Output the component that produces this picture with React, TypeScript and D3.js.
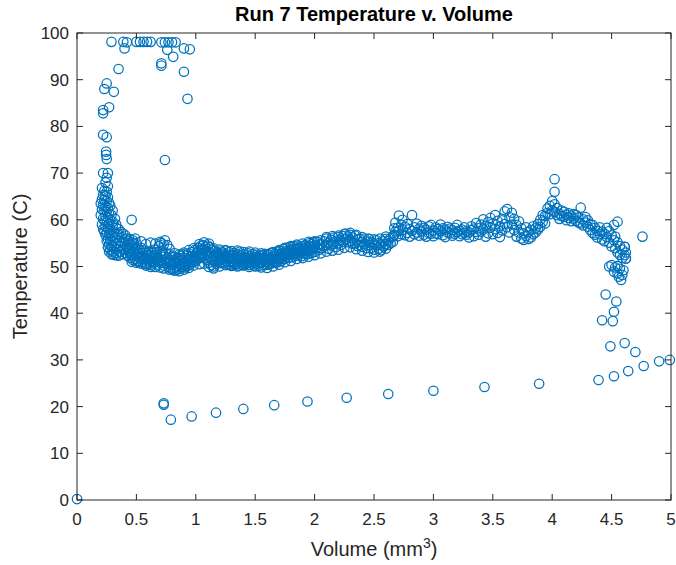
import React from "react";
import * as d3 from "d3";

// ---------- DATA (volume in mm^3, temperature in C) ----------
const xTicks = [0, 0.5, 1, 1.5, 2, 2.5, 3, 3.5, 4, 4.5, 5];
const yTicks = [0, 10, 20, 30, 40, 50, 60, 70, 80, 90, 100];
const titleText = "Run 7 Temperature v. Volume";
const yLabelText = "Temperature (C)";

const originPoint: [number, number][] = [[0, 0.2]];

const topCluster: [number, number][] = [
  [0.29, 98.1], [0.39, 98.1], [0.40, 96.7], [0.42, 98.0], [0.50, 98.1], [0.53, 98.1], [0.56, 98.1],
  [0.59, 98.1], [0.62, 98.1], [0.71, 98.0], [0.74, 98.0], [0.77, 98.0], [0.80, 98.0], [0.83, 98.0],
  [0.76, 96.4], [0.81, 94.9], [0.90, 96.7], [0.95, 96.5], [0.71, 93.5], [0.71, 93.0], [0.90, 91.7],
  [0.93, 85.9], [0.35, 92.3], [0.25, 89.2], [0.23, 88.0], [0.31, 87.4], [0.27, 84.1], [0.22, 83.5],
  [0.22, 82.8], [0.22, 78.2], [0.25, 77.7], [0.245, 74.6], [0.245, 73.9], [0.25, 73.0], [0.74, 72.8],
  [0.22, 70.0], [0.26, 70.0], [0.25, 69.0], [0.24, 68.0], [0.26, 67.2],
];

const descent: [number, number][] = [
  [0.21, 66.8], [0.23, 66.2], [0.25, 66.0], [0.22, 65.3], [0.24, 65.1], [0.26, 64.8], [0.23, 64.3],
  [0.25, 64.0], [0.27, 63.6], [0.20, 63.5], [0.22, 63.2], [0.24, 62.9], [0.26, 62.5], [0.23, 62.0],
  [0.25, 61.7], [0.27, 61.3], [0.20, 61.0], [0.29, 61.0], [0.24, 60.8], [0.26, 60.4], [0.28, 60.0],
  [0.23, 59.8], [0.25, 59.4], [0.27, 59.1], [0.21, 59.0], [0.30, 58.8], [0.24, 58.5], [0.26, 58.2],
  [0.28, 57.8], [0.31, 57.5], [0.33, 58.3], [0.25, 57.2], [0.27, 56.9], [0.29, 56.5], [0.32, 56.2],
  [0.35, 56.8], [0.26, 55.9], [0.28, 55.6], [0.30, 55.3], [0.33, 55.0], [0.36, 55.5], [0.38, 56.3],
  [0.27, 54.7], [0.29, 54.4], [0.31, 54.1], [0.34, 53.8], [0.37, 54.4], [0.40, 55.2], [0.28, 53.6],
  [0.30, 53.2], [0.33, 52.9], [0.36, 53.1], [0.39, 53.7], [0.42, 54.5], [0.44, 55.9], [0.46, 60.0],
  [0.31, 52.5], [0.33, 52.4], [0.35, 52.3], [0.38, 52.6], [0.41, 52.9], [0.43, 53.4], [0.45, 54.8],
  [0.47, 55.6], [0.49, 56.0], [0.40, 53.6], [0.43, 52.2], [0.36, 54.2], [0.41, 56.0], [0.43, 55.5],
  [0.32, 60.2], [0.30, 59.6], [0.33, 59.0], [0.35, 58.0], [0.37, 57.4], [0.39, 57.0], [0.41, 56.6],
  [0.34, 57.0], [0.38, 55.2], [0.42, 54.0], [0.44, 53.0], [0.46, 52.4], [0.30, 62.0], [0.28, 63.0],
  [0.21, 62.2], [0.21, 64.4], [0.22, 60.3], [0.22, 58.0], [0.24, 56.8], [0.25, 55.5], [0.27, 53.2],
  [0.29, 52.6], [0.26, 54.2], [0.23, 57.5],
];

// [volume, temperature A, temperature B]
const bandLeft: [number, number, number][] = [
  [0.45, 53.8, 51.9], [0.46, 52.6, 54.6], [0.47, 51.4, 53.2], [0.48, 52.9, 55.0], [0.49, 51.6, 53.7],
  [0.50, 52.4, 54.1], [0.51, 51.2, 53.0], [0.52, 52.8, 50.9], [0.53, 53.5, 51.7], [0.54, 52.2, 54.0],
  [0.55, 51.0, 52.9], [0.56, 53.4, 51.5], [0.57, 52.1, 50.6], [0.58, 53.0, 51.8], [0.59, 52.4, 50.5],
  [0.60, 51.3, 53.2], [0.61, 52.6, 50.8], [0.62, 51.7, 49.9], [0.63, 52.9, 51.1], [0.64, 50.7, 52.3],
  [0.65, 51.9, 53.6], [0.66, 50.9, 52.5], [0.67, 51.6, 53.1], [0.68, 50.4, 52.0], [0.69, 51.3, 54.4],
  [0.70, 50.8, 52.7], [0.71, 52.1, 55.0], [0.72, 51.0, 53.3], [0.73, 50.2, 52.4], [0.74, 51.5, 55.6],
  [0.75, 50.6, 52.9], [0.76, 51.8, 54.6], [0.77, 49.9, 51.2], [0.78, 50.7, 52.6], [0.79, 49.6, 51.4],
  [0.80, 50.3, 52.2], [0.81, 49.4, 51.0], [0.82, 50.6, 52.0], [0.83, 49.8, 51.6], [0.84, 50.9, 49.3],
  [0.85, 50.1, 51.9], [0.86, 49.5, 51.2], [0.87, 50.4, 52.3], [0.88, 49.9, 51.5], [0.89, 50.7, 52.6],
  [0.90, 50.2, 51.8], [0.91, 51.0, 49.8], [0.92, 50.5, 52.4], [0.93, 51.3, 50.1], [0.94, 50.8, 52.8],
  [0.95, 51.6, 50.4], [0.96, 52.2, 51.0], [0.97, 51.4, 53.1], [0.98, 52.0, 50.9], [0.99, 51.7, 53.5],
  [1.00, 52.3, 51.2], [1.01, 53.0, 51.5], [1.02, 52.2, 54.0], [1.03, 53.4, 51.8], [1.04, 52.7, 54.4],
  [1.05, 53.6, 52.0], [1.06, 52.9, 54.6], [1.07, 53.8, 51.9], [1.08, 52.5, 54.2], [1.09, 53.3, 51.4],
  [1.10, 54.5, 52.6], [1.11, 53.1, 50.8], [1.12, 52.0, 54.1], [1.13, 50.3, 52.8], [1.14, 51.5, 53.6],
  [1.15, 50.0, 52.2], [1.16, 51.2, 53.3], [1.17, 50.6, 52.4], [1.18, 51.8, 53.0], [1.19, 51.0, 52.7],
  [1.20, 52.1, 50.7], [1.21, 51.4, 53.2], [1.22, 52.6, 50.9], [1.23, 51.7, 53.0], [1.24, 50.8, 52.3],
  [1.25, 51.9, 53.4],
];

const bandMid: [number, number, number][] = [
  [1.26, 51.1, 52.6], [1.27, 50.5, 52.0], [1.28, 51.6, 53.1], [1.29, 50.9, 52.3], [1.30, 51.8, 50.3],
  [1.31, 52.5, 51.2], [1.32, 50.7, 52.9], [1.33, 51.9, 50.4], [1.34, 52.3, 51.0], [1.35, 50.6, 52.7],
  [1.36, 51.5, 50.2], [1.37, 52.1, 53.2], [1.38, 51.0, 52.4], [1.39, 50.4, 51.7], [1.40, 52.6, 51.3],
  [1.41, 50.8, 52.0], [1.42, 51.9, 50.5], [1.43, 52.4, 51.2], [1.44, 50.9, 52.8], [1.45, 51.6, 50.3],
  [1.46, 52.2, 51.0], [1.47, 50.7, 51.8], [1.48, 51.4, 52.6], [1.49, 50.2, 51.1], [1.50, 52.0, 50.8],
  [1.51, 51.3, 52.5], [1.52, 50.6, 51.7], [1.53, 51.9, 50.1], [1.54, 52.3, 51.0], [1.55, 50.8, 51.6],
  [1.56, 51.5, 52.4], [1.57, 50.3, 51.2], [1.58, 51.8, 52.7], [1.59, 50.9, 51.4], [1.60, 52.1, 50.4],
  [1.61, 51.0, 52.6], [1.62, 50.5, 51.7], [1.63, 51.6, 52.9], [1.64, 50.7, 51.3], [1.65, 51.9, 53.0],
  [1.66, 51.2, 52.3], [1.67, 52.4, 50.8], [1.68, 51.6, 53.2], [1.69, 52.0, 50.9], [1.70, 52.7, 51.5],
  [1.71, 51.8, 53.4], [1.72, 52.5, 51.2], [1.73, 53.0, 51.9], [1.74, 52.2, 53.8], [1.75, 51.6, 52.9],
  [1.76, 53.3, 52.1], [1.77, 52.6, 54.0], [1.78, 51.9, 53.1], [1.79, 53.5, 52.4], [1.80, 52.8, 54.2],
  [1.81, 52.0, 53.4], [1.82, 53.7, 52.6], [1.83, 52.9, 54.3], [1.84, 52.3, 53.6], [1.85, 53.9, 52.7],
  [1.86, 53.1, 54.5], [1.87, 52.5, 53.8], [1.88, 54.1, 53.0], [1.89, 53.4, 52.2], [1.90, 54.3, 53.2],
  [1.91, 52.8, 53.9], [1.92, 54.6, 53.4], [1.93, 53.0, 54.1], [1.94, 53.7, 52.6], [1.95, 54.4, 53.3],
  [1.96, 53.5, 55.0], [1.97, 52.9, 54.2], [1.98, 54.8, 53.6], [1.99, 53.9, 55.2], [2.00, 54.5, 53.1],
  [2.02, 54.0, 55.3], [2.04, 53.6, 54.7], [2.06, 54.8, 53.9], [2.08, 55.4, 54.3], [2.10, 54.6, 56.0],
  [2.12, 55.1, 53.8], [2.14, 55.7, 54.5], [2.16, 54.9, 56.2], [2.18, 55.5, 54.2], [2.20, 56.3, 55.0],
  [2.22, 55.6, 54.6], [2.24, 56.5, 55.3], [2.26, 55.8, 57.0], [2.28, 56.4, 55.2], [2.30, 55.5, 56.8],
  [2.32, 56.2, 54.9], [2.34, 55.0, 56.6], [2.36, 55.8, 54.4], [2.38, 54.6, 55.9], [2.40, 55.3, 54.2],
  [2.42, 54.8, 56.0], [2.44, 53.9, 55.4], [2.46, 54.6, 55.9], [2.48, 55.2, 54.0], [2.50, 53.6, 54.9],
  [2.52, 54.5, 55.6], [2.54, 53.8, 55.0], [2.56, 54.7, 53.5], [2.58, 55.4, 54.3], [2.60, 54.8, 55.9],
  [2.62, 55.5, 54.6], [2.64, 56.1, 55.0], [2.66, 55.3, 56.5],
];

// [volume, upper-edge temperature, lower-edge temperature]
const bandEdges: [number, number, number][] = [
  [0.46, 55.2, 51.0], [0.50, 55.0, 50.8], [0.54, 55.4, 50.6], [0.58, 54.8, 50.2], [0.62, 55.1, 50.3],
  [0.66, 54.9, 49.9], [0.70, 55.3, 49.8], [0.73, 54.7, 49.6], [0.78, 53.8, 49.3], [0.82, 52.9, 49.1],
  [0.86, 52.6, 49.0], [0.90, 53.0, 49.3], [0.94, 53.5, 49.7], [0.98, 53.9, 50.2], [1.03, 54.8, 50.5],
  [1.07, 55.2, 50.6], [1.11, 54.9, 49.9], [1.15, 53.9, 49.6], [1.20, 53.6, 50.0], [1.25, 53.5, 50.3],
  [1.30, 53.3, 50.1], [1.35, 53.4, 50.0], [1.40, 53.1, 50.2], [1.45, 53.2, 49.9], [1.50, 53.0, 50.0],
  [1.55, 52.8, 49.8], [1.60, 52.6, 49.7], [1.65, 53.1, 50.0], [1.70, 53.5, 50.4], [1.75, 54.0, 50.9],
  [1.80, 54.4, 51.2], [1.85, 54.7, 51.6], [1.90, 54.9, 51.8], [1.95, 55.3, 52.1], [2.00, 55.4, 52.4],
  [2.05, 55.6, 52.8], [2.10, 56.3, 53.2], [2.15, 56.5, 53.4], [2.20, 56.6, 53.6], [2.25, 57.0, 54.0],
  [2.30, 57.2, 54.1], [2.35, 56.8, 53.7], [2.40, 56.3, 53.4], [2.45, 55.9, 53.1], [2.50, 55.8, 53.0],
  [2.55, 56.0, 53.2], [2.60, 56.4, 53.8],
];

const bandRight: [number, number, number][] = [
  [2.67, 56.8, 58.2], [2.68, 57.5, 59.4], [2.70, 58.3, 56.5], [2.71, 60.9, 57.6], [2.73, 58.9, 56.9],
  [2.74, 57.8, 60.0], [2.76, 58.5, 56.7], [2.78, 57.2, 59.1], [2.80, 58.0, 56.4], [2.82, 61.0, 57.6],
  [2.84, 58.4, 56.9], [2.86, 57.3, 59.2], [2.88, 58.1, 56.6], [2.90, 57.5, 58.7], [2.92, 56.8, 58.3],
  [2.94, 57.9, 56.4], [2.96, 58.6, 57.2], [2.98, 57.0, 58.9], [3.00, 57.7, 56.5], [3.02, 58.4, 57.1],
  [3.04, 56.9, 58.0], [3.06, 57.6, 59.0], [3.08, 56.7, 58.2], [3.10, 57.9, 56.3], [3.12, 58.5, 57.3],
  [3.14, 57.1, 58.1], [3.16, 56.6, 57.8], [3.18, 58.3, 57.0], [3.20, 57.4, 58.9], [3.22, 56.5, 57.7],
  [3.24, 57.9, 56.9], [3.26, 57.2, 58.4], [3.28, 56.8, 57.6], [3.30, 57.3, 56.2], [3.32, 57.8, 58.6],
  [3.34, 56.5, 58.1], [3.36, 57.4, 59.3], [3.38, 58.2, 56.8], [3.40, 59.0, 57.5], [3.42, 57.9, 60.1],
  [3.44, 56.4, 58.7], [3.46, 59.5, 57.1], [3.48, 58.3, 60.4], [3.50, 56.9, 59.2], [3.52, 58.0, 61.0],
  [3.54, 57.2, 59.8], [3.56, 58.6, 56.3], [3.58, 60.2, 57.7], [3.60, 61.8, 59.1], [3.62, 58.4, 62.3],
  [3.64, 60.6, 57.3], [3.66, 59.0, 61.5], [3.68, 57.8, 60.2], [3.70, 58.9, 56.4], [3.72, 57.3, 59.7],
  [3.74, 56.0, 58.2], [3.76, 57.1, 55.7], [3.78, 58.4, 56.5], [3.80, 55.9, 57.4], [3.82, 57.8, 56.2],
  [3.84, 56.9, 58.6], [3.86, 58.2, 57.3], [3.88, 59.1, 57.9], [3.90, 58.5, 60.0], [3.92, 59.6, 61.0],
  [3.94, 60.8, 59.2], [3.96, 61.5, 62.4], [3.98, 63.0, 61.2], [4.00, 62.0, 64.0], [4.02, 63.3, 61.7],
  [4.04, 62.5, 61.0], [4.06, 61.3, 60.2], [4.08, 62.0, 60.8], [4.10, 60.6, 61.7], [4.12, 61.1, 59.9],
  [4.14, 60.4, 61.4], [4.16, 59.7, 60.9], [4.18, 61.2, 60.3], [4.20, 59.8, 61.0], [4.22, 60.5, 59.4],
  [4.24, 62.6, 59.2], [4.26, 60.1, 58.8], [4.28, 59.4, 60.6], [4.30, 58.5, 59.9], [4.32, 57.8, 59.1],
  [4.34, 58.9, 57.2], [4.36, 56.8, 58.3], [4.38, 57.6, 56.2], [4.40, 58.4, 56.9], [4.42, 55.8, 57.5],
  [4.44, 57.0, 55.4], [4.46, 58.3, 56.3], [4.48, 55.1, 57.6], [4.50, 56.7, 54.3], [4.52, 58.9, 55.6],
  [4.53, 53.9, 56.4], [4.55, 55.2, 53.0], [4.57, 52.5, 54.4], [4.59, 53.6, 51.8], [4.61, 54.2, 52.4],
  [4.62, 51.7, 53.0],
];

const peakAndDrop: [number, number][] = [
  [4.02, 68.7], [4.02, 66.0], [4.55, 59.6], [4.76, 56.4], [4.61, 54.2], [4.62, 51.7],
  [4.48, 50.0], [4.50, 50.3], [4.53, 49.8], [4.55, 50.1], [4.57, 49.5], [4.52, 48.9], [4.55, 48.5],
  [4.59, 48.2], [4.58, 47.1], [4.56, 47.8], [4.60, 49.2],
  [4.45, 44.0], [4.54, 42.5], [4.52, 40.3], [4.42, 38.5], [4.51, 38.3],
  [4.49, 32.9], [4.61, 33.6], [4.70, 31.7],
];

const coolingCurve: [number, number][] = [
  [0.73, 20.7], [0.73, 20.4], [0.79, 17.2], [0.965, 17.9], [1.17, 18.7], [1.40, 19.5], [1.66, 20.3],
  [1.94, 21.1], [2.27, 21.9], [2.62, 22.7], [3.00, 23.4], [3.43, 24.2], [3.89, 24.9], [4.39, 25.7],
  [4.52, 26.5], [4.64, 27.6], [4.77, 28.7], [4.90, 29.7], [4.99, 30.0],
];

// ---------- LAYOUT ----------
const W = 676;
const H = 565;
const plot = { left: 77, right: 671, top: 33, bottom: 500 };
const blue = "#0072BD";
const axisColor = "#262626";
const font = "'Liberation Sans', Arial, Helvetica, sans-serif";

export default function App() {
  const x = d3.scaleLinear().domain([0, 5]).range([plot.left, plot.right]);
  const y = d3.scaleLinear().domain([0, 100]).range([plot.bottom, plot.top]);

  const expand = (arr: [number, number, number][]): [number, number][] =>
    arr.flatMap(([v, a, b]) => [[v, a], [v, b]] as [number, number][]);

  const allPoints: [number, number][] = [
    ...originPoint,
    ...topCluster,
    ...descent,
    ...expand(bandLeft),
    ...expand(bandMid),
    ...expand(bandEdges),
    ...expand(bandRight),
    ...peakAndDrop,
    ...coolingCurve,
  ];

  const tickLen = 6;
  const cx = (plot.left + plot.right) / 2;
  const cy = (plot.top + plot.bottom) / 2;

  return (
    <div style={{ position: "absolute", left: 0, top: 0, width: W, height: H, background: "#fff" }}>
      <svg width={W} height={H} style={{ display: "block" }} fontFamily={font}>
        <rect x={0} y={0} width={W} height={H} fill="#fff" />
        <g>
          {allPoints.map(([v, t], i) => (
            <circle
              key={i}
              cx={x(v)}
              cy={y(t)}
              r={4.7}
              fill="none"
              stroke={blue}
              strokeWidth={1.25}
            />
          ))}
        </g>
        <rect
          x={plot.left}
          y={plot.top}
          width={plot.right - plot.left}
          height={plot.bottom - plot.top}
          fill="none"
          stroke={axisColor}
          strokeWidth={1}
        />
        {xTicks.map((t) => (
          <g key={"x" + t}>
            <line x1={x(t)} x2={x(t)} y1={plot.bottom} y2={plot.bottom - tickLen} stroke={axisColor} />
            <line x1={x(t)} x2={x(t)} y1={plot.top} y2={plot.top + tickLen} stroke={axisColor} />
            <text x={x(t)} y={plot.bottom + 25} textAnchor="middle" fontSize={17} fill={axisColor}>
              {String(t)}
            </text>
          </g>
        ))}
        {yTicks.map((t) => (
          <g key={"y" + t}>
            <line x1={plot.left} x2={plot.left + tickLen} y1={y(t)} y2={y(t)} stroke={axisColor} />
            <line x1={plot.right} x2={plot.right - tickLen} y1={y(t)} y2={y(t)} stroke={axisColor} />
            <text x={plot.left - 8} y={y(t) + 6} textAnchor="end" fontSize={17} fill={axisColor}>
              {String(t)}
            </text>
          </g>
        ))}
        <text x={cx} y={21} textAnchor="middle" fontSize={20} fontWeight="bold" fill="#000">
          {titleText}
        </text>
        <text x={cx} y={556} textAnchor="middle" fontSize={20} fill={axisColor}>
          Volume (mm
          <tspan dy={-8} fontSize={14}>3</tspan>
          <tspan dy={8}>)</tspan>
        </text>
        <text
          transform={`translate(27, ${cy}) rotate(-90)`}
          textAnchor="middle"
          fontSize={20}
          fill={axisColor}
        >
          {yLabelText}
        </text>
      </svg>
    </div>
  );
}
